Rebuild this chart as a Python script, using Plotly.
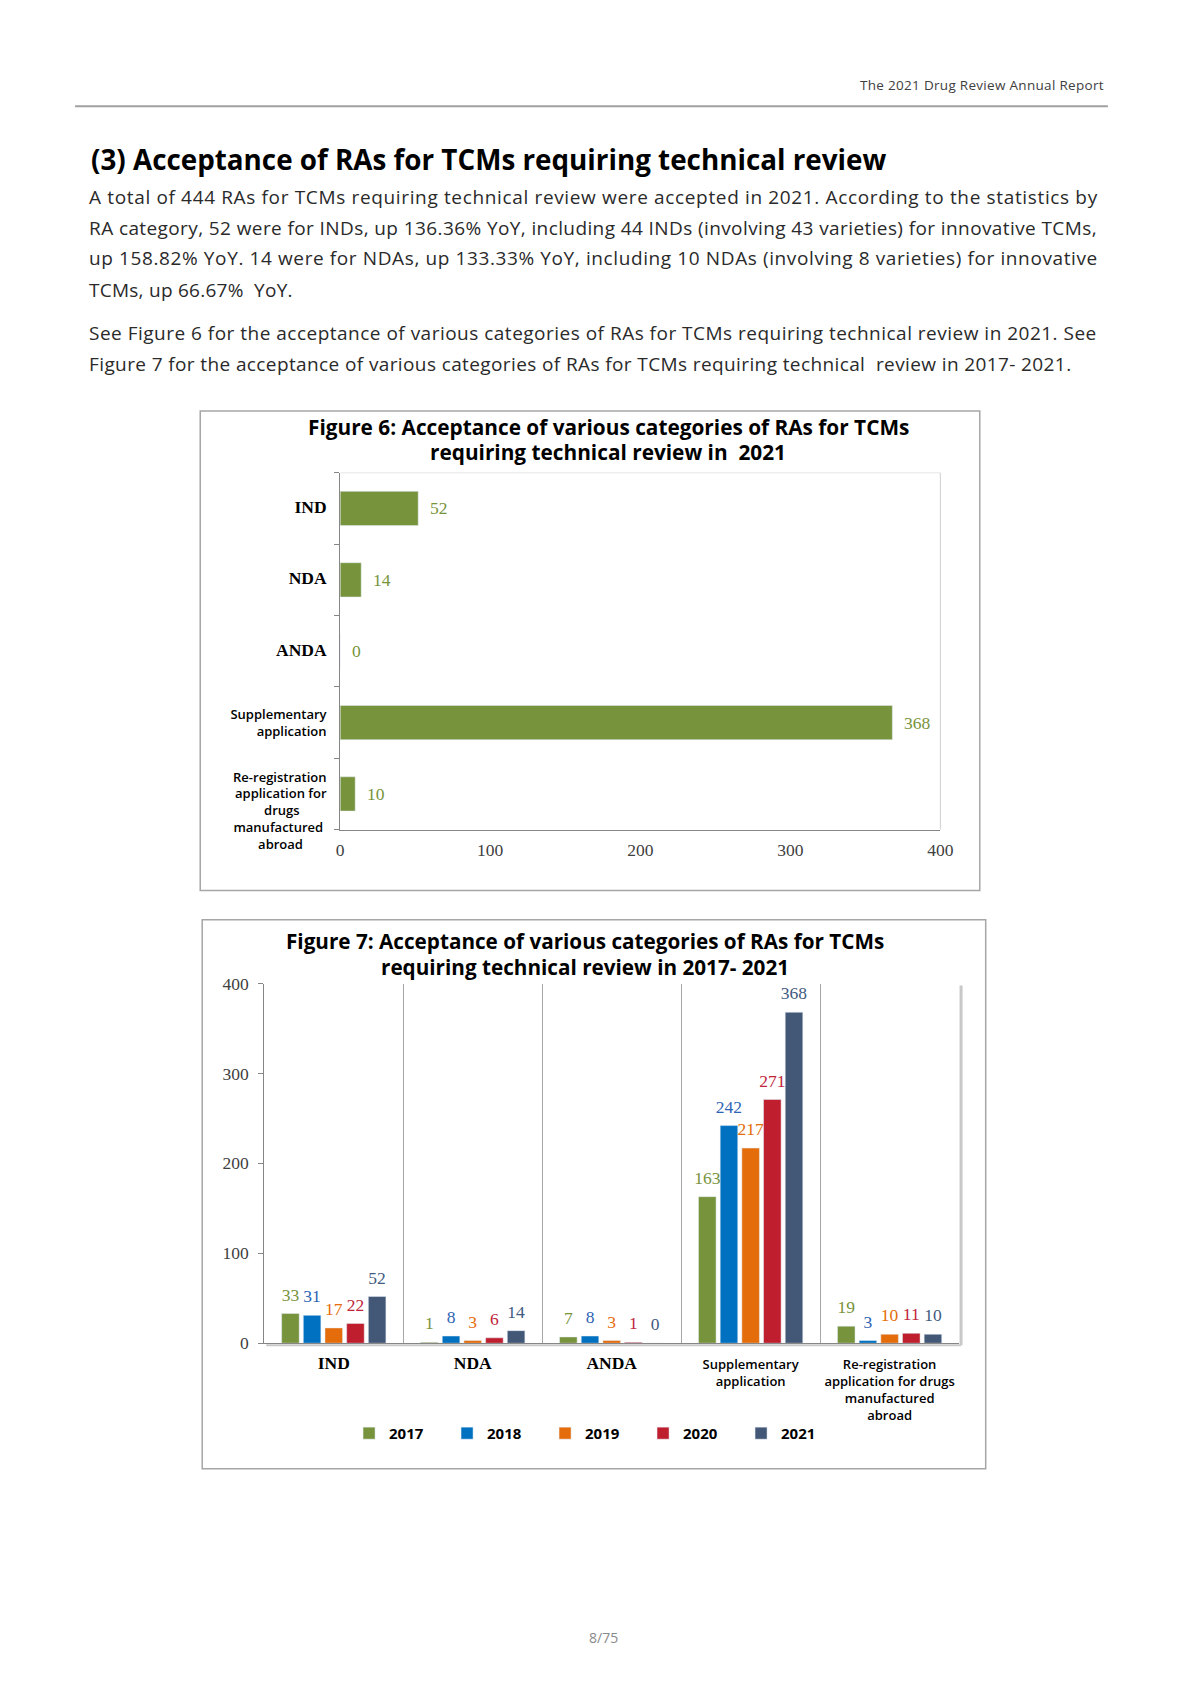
import plotly.graph_objects as go

# page is 1190 x 1683; the browser body keeps its default 8px margin
PAGE_W, PAGE_H = 1190, 1683
OFF = 8
W, H = PAGE_W - 2 * OFF, PAGE_H - 2 * OFF

# ---------------- data ----------------
categories = ["IND", "NDA", "ANDA", "Supplementary application",
              "Re-registration application for drugs manufactured abroad"]
fig6_tick_labels = ["IND", "NDA", "ANDA", "Supplementary<br>application",
                    "<br><br>Re-registration<br>application for<br>drugs&nbsp;&nbsp;&nbsp;&nbsp;&nbsp;&nbsp;&nbsp;&nbsp;"
                    "<br>manufactured&nbsp;<br>abroad&nbsp;&nbsp;&nbsp;&nbsp;&nbsp;&nbsp;&nbsp;"]
fig7_tick_labels = ["IND", "NDA", "ANDA", "Supplementary<br>application",
                    "Re-registration<br>application for drugs<br>manufactured<br>abroad"]
values_2021_fig6 = [52, 14, 0, 368, 10]
years = ["2017", "2018", "2019", "2020", "2021"]
v2017 = [33, 1, 7, 163, 19]
v2018 = [31, 8, 8, 242, 3]
v2019 = [17, 3, 3, 217, 10]
v2020 = [22, 6, 1, 271, 11]
v2021 = [52, 14, 0, 368, 10]
value_ticks = [0, 100, 200, 300, 400]

series = [v2017, v2018, v2019, v2020, v2021]
bar_colors = ["#77933C", "#0070C0", "#E46C0A", "#BE1E2D", "#435776"]
text_colors = ["#77933C", "#2E64B4", "#E46C0A", "#C0243A", "#3F5A80"]

SANS = "Open Sans"
SERIF = "Liberation Serif"


def px(x):
    return (x - OFF) / W


def py(y):
    return 1 - (y - OFF) / H


def style_tick(lbl):
    if "<br>" in lbl:
        return lbl
    return f'<span style="font-family:{SERIF};font-size:17.5px"><b>{lbl}</b></span>'


fig = go.Figure()

# Figure 6: horizontal bars
fig.add_trace(go.Bar(
    y=categories, x=values_2021_fig6, orientation="h",
    marker=dict(color="#77933C"), width=0.48,
    texttemplate="  %{x}", textposition="outside", cliponaxis=False,
    textfont=dict(family=SERIF, size=17.5, color="#77933C"),
    xaxis="x", yaxis="y", showlegend=False, hoverinfo="skip",
))

# Figure 7: grouped bars
for yr, vals, bc in zip(years, series, bar_colors):
    fig.add_trace(go.Bar(
        x=categories, y=vals, name=yr, marker=dict(color=bc),
        xaxis="x2", yaxis="y2", hoverinfo="skip", offsetgroup=yr,
    ))
# value labels, dodged like the bars and lifted a little above them
for yr, vals, tc in zip(years, series, text_colors):
    fig.add_trace(go.Scatter(
        x=categories, y=vals, mode="markers+text", text=vals, orientation="v",
        offsetgroup=yr, textposition="top center", cliponaxis=False,
        marker=dict(size=12, opacity=0, color=tc),
        textfont=dict(family=SERIF, size=17.5, color=tc),
        xaxis="x2", yaxis="y2", showlegend=False, hoverinfo="skip",
    ))

grey = "#868686"
fig.update_layout(
    width=W, height=H, margin=dict(l=0, r=0, t=0, b=0),
    paper_bgcolor="white", plot_bgcolor="white",
    barmode="group", bargap=0.22, bargroupgap=0.19,
    scattermode="group", scattergap=0.22,
    font=dict(family=SANS, color="#000000"),
    xaxis=dict(domain=[px(341), px(950)], anchor="y", range=[0, 400],
               tickvals=value_ticks, showgrid=False, zeroline=False,
               showline=True, linecolor=grey, ticks="", ticklabelstandoff=4,
               tickfont=dict(family=SERIF, size=17.5, color="#404040")),
    yaxis=dict(domain=[py(836), py(472)], anchor="x", autorange="reversed",
               tickvals=categories, ticktext=[style_tick(t) for t in fig6_tick_labels],
               showline=True, linecolor=grey, ticks="outside", tickson="boundaries",
               ticklen=5, tickcolor=grey, showgrid=False, ticklabelstandoff=10,
               tickfont=dict(family=SANS, size=13, color="#000000", weight=600)),
    xaxis2=dict(domain=[px(264), px(969)], anchor="y2",
                tickvals=categories, ticktext=[style_tick(t) for t in fig7_tick_labels],
                showline=True, linecolor=grey, ticks="", tickson="boundaries",
                showgrid=True, gridcolor="#A6A6A6", gridwidth=1, ticklabelstandoff=9,
                tickfont=dict(family=SANS, size=13, color="#000000", weight=600)),
    yaxis2=dict(domain=[py(1360), py(993)], anchor="x2", range=[0, 400],
                tickvals=value_ticks, showgrid=False, zeroline=False,
                showline=True, linecolor=grey, ticks="outside", ticklen=5,
                tickcolor=grey, ticklabelstandoff=6,
                tickfont=dict(family=SERIF, size=17.5, color="#404040")),
    legend=dict(orientation="h", x=px(350), y=py(1452), xanchor="left", yanchor="middle",
                entrywidth=53, entrywidthmode="pixels", itemwidth=30,
                font=dict(family=SANS, size=15, color="#000000", weight=700),
                bgcolor="rgba(0,0,0,0)"),
)

# ---------------- shapes ----------------
shapes = [
    dict(type="line", xref="paper", yref="paper", x0=px(72), x1=px(1120),
         y0=py(98), y1=py(98), line=dict(color="#A0A0A0", width=2)),
    dict(type="rect", xref="paper", yref="paper", x0=px(199), x1=px(990),
         y0=py(898), y1=py(409), line=dict(color="#A6A6A6", width=1.5)),
    dict(type="rect", xref="paper", yref="paper", x0=px(201), x1=px(996),
         y0=py(1488), y1=py(928), line=dict(color="#A6A6A6", width=1.5)),
    # subtle plot-area edges
    dict(type="line", xref="paper", yref="paper", x0=px(950), x1=px(950),
         y0=py(836), y1=py(472), line=dict(color="#D0D0D0", width=1)),
    dict(type="line", xref="paper", yref="paper", x0=px(341), x1=px(950),
         y0=py(472), y1=py(472), line=dict(color="#E6E6E6", width=1)),
    dict(type="line", xref="paper", yref="paper", x0=px(971), x1=px(971),
         y0=py(1362), y1=py(995), line=dict(color="#C8C8C8", width=3)),
    dict(type="line", xref="paper", yref="paper", x0=px(266), x1=px(971),
         y0=py(1362), y1=py(1362), line=dict(color="#C8C8C8", width=2)),
]
fig.update_layout(shapes=shapes)

# ---------------- text ----------------
ann = []


def text(x, y, s, size, color="#000000", anchor="left", family=SANS, weight=400, ls=None):
    if ls is not None:
        s = f'<span style="letter-spacing:{ls}px">{s}</span>'
    ann.append(dict(xref="paper", yref="paper", x=px(x), y=py(y), text=s,
                    showarrow=False, xanchor=anchor, yanchor="middle",
                    font=dict(family=family, size=size, color=color, weight=weight)))


text(1118, 76, "The 2021 Drug Review Annual Report", 13.5, "#404040", "right", ls=0.3)
text(86, 152, "(3) Acceptance of RAs for TCMs requiring technical review", 27.8, "#000000",
     "left", weight=700)
body = [
    (191, 0.65, "A total of 444 RAs for TCMs requiring technical review were accepted in 2021. According to the statistics by"),
    (222, 0.40, "RA category, 52 were for INDs, up 136.36% YoY, including 44 INDs (involving 43 varieties) for innovative TCMs,"),
    (253, 0.61, "up 158.82% YoY. 14 were for NDAs, up 133.33% YoY, including 10 NDAs (involving 8 varieties) for innovative"),
    (285, 0.26, "TCMs, up 66.67%  YoY."),
    (329, 0.49, "See Figure 6 for the acceptance of various categories of RAs for TCMs requiring technical review in 2021. See"),
    (361, 0.39, "Figure 7 for the acceptance of various categories of RAs for TCMs requiring technical  review in 2017- 2021."),
]
for y, ls, s in body:
    text(84, y, s, 19, "#2A2A2A", ls=ls)

text(613, 425, "Figure 6: Acceptance of various categories of RAs for TCMs", 20.8,
     anchor="center", weight=700)
text(613, 451, "requiring technical review in  2021", 20.8, anchor="center", weight=700)
text(589, 950, "Figure 7: Acceptance of various categories of RAs for TCMs", 20.7,
     anchor="center", weight=700)
text(589, 976, "requiring technical review in 2017- 2021", 20.7, anchor="center", weight=700)
text(608, 1660, "8/75", 14, "#8A8A8A", "center")

fig.update_layout(annotations=ann)

fig.write_html("out.html", config={"displayModeBar": False})
